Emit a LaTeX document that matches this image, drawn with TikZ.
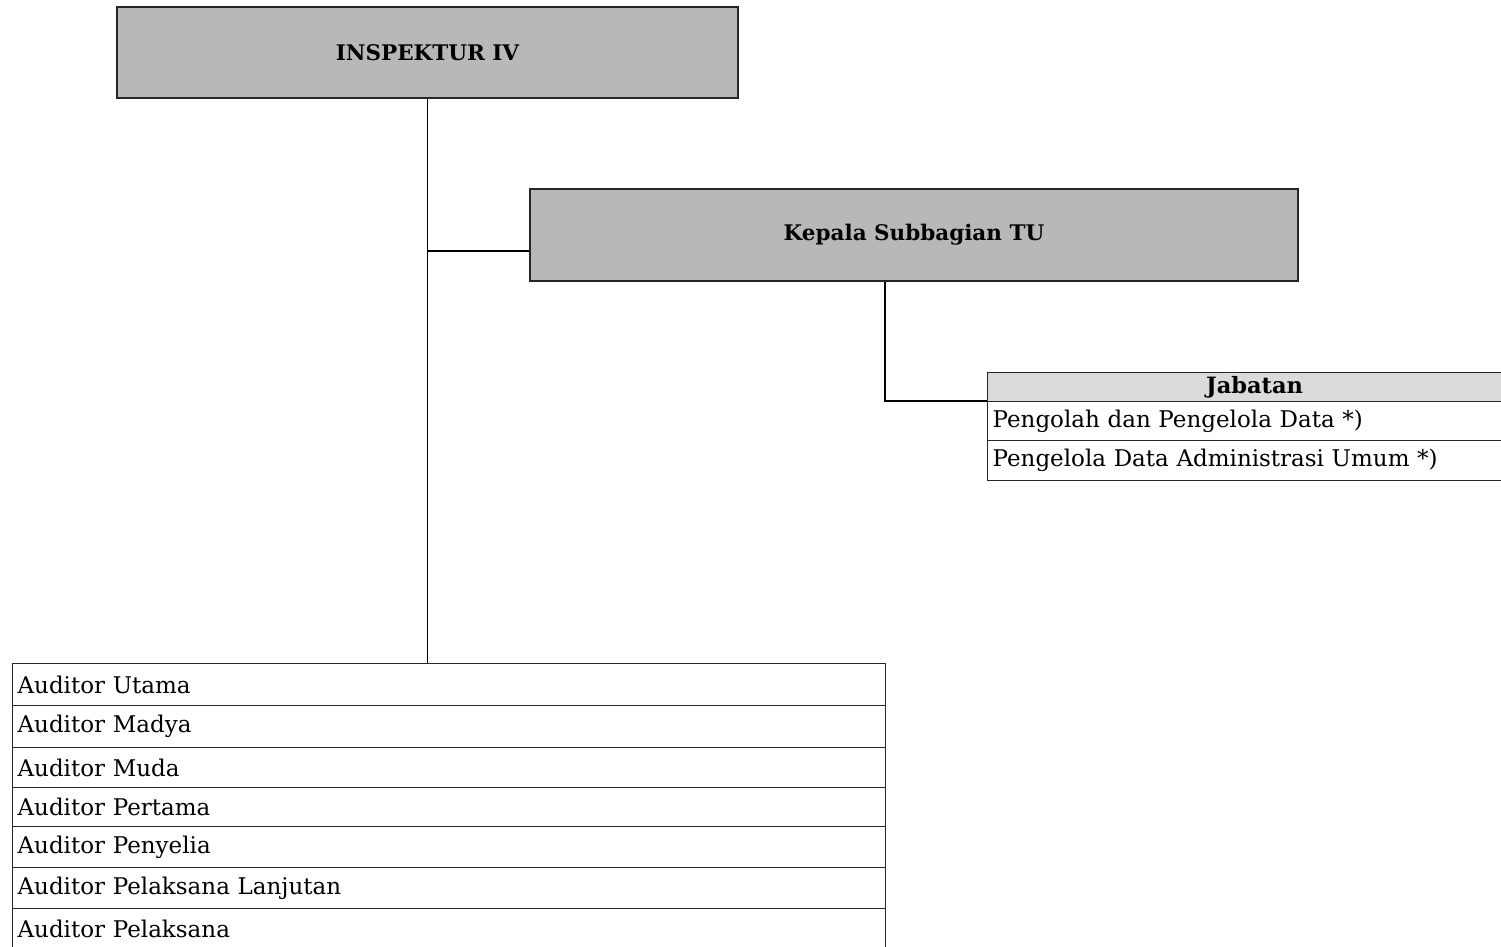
\documentclass[tikz,border=0pt]{standalone}
\usepackage{fontspec}
\setmainfont{DejaVu Serif}
\usetikzlibrary{positioning}

\begin{document}
\begin{tikzpicture}[x=1pt,y=-1pt,
        kotak/.style={draw=black!85, line width=1.2pt, fill=black!28, font=\bfseries\fontsize{21.5}{24}\selectfont},
        judul/.style={draw=black!85, line width=1.2pt, fill=black!14, anchor=north west, minimum width=514pt, minimum height=29pt, inner sep=0pt, font=\bfseries\fontsize{22.5}{24}\selectfont},
        baris/.style={draw=black!85, line width=1.2pt, anchor=north west, inner xsep=5pt, inner ysep=0pt, align=left, font=\fontsize{23}{26}\selectfont}]
    % batas gambar
    \useasboundingbox (0,0) rectangle (1501,946);
    % kotak pimpinan
    \node[kotak, minimum width=621pt, minimum height=91pt] (inspektur) at (427.5,52.5) {INSPEKTUR IV};
    \node[kotak, minimum width=768pt, minimum height=92pt] (kasubag) at (914,235) {Kepala Subbagian TU};
    % tabel jabatan subbagian
    \node[judul] (jab0) at (987,372) {\hspace*{20pt}Jabatan};
    \node[baris, text width=504pt, minimum height=39pt] (jab1) at (987,401) {Pengolah dan Pengelola Data *)};
    \node[baris, text width=504pt, minimum height=40pt] (jab2) at (987,440) {Pengelola Data Administrasi Umum *)};
    % tabel auditor
    \foreach \atas/\tinggi/\teks [count=\i] in {663/42/Auditor Utama, 705/42/Auditor Madya, 747/40/Auditor Muda,
            787/39/Auditor Pertama, 826/41/Auditor Penyelia, 867/41/Auditor Pelaksana Lanjutan, 908/40/Auditor Pelaksana}
        \node[baris, text width=863pt, minimum height=\tinggi pt] (aud\i) at (12,\atas) {\teks};
    % garis hubung
    \coordinate (cabang) at ([yshift=-16pt]kasubag.west);
    \draw[line width=1.2pt] (inspektur.south) -- (inspektur.south |- aud1.north);
    \draw[line width=1.2pt] (inspektur.south |- cabang) -- (cabang);
    \draw[line width=1.2pt] ([xshift=-29pt]kasubag.south) |- (jab1.north west);
\end{tikzpicture}
\end{document}
